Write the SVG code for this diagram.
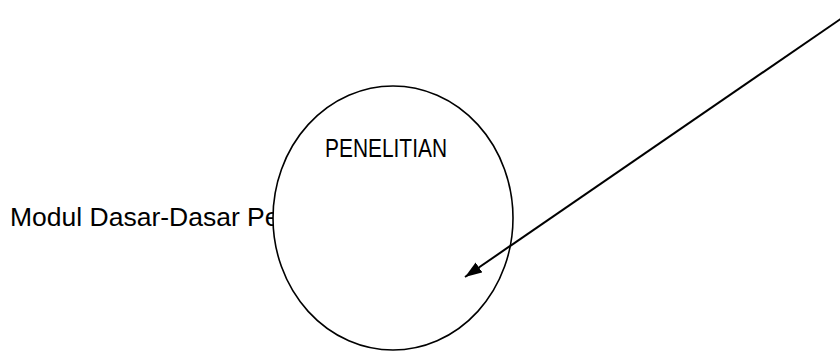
<svg xmlns="http://www.w3.org/2000/svg" width="840" height="353" viewBox="0 0 840 353">
<style>
  text { font-family: "Liberation Sans", Arial, sans-serif; fill: #000; }
  .shape { fill: #fff; stroke: #000; stroke-width: 1.6; }
  .conn { stroke: #000; stroke-width: 2; fill: none; }
</style>
<defs>
  <marker id="arrow" markerUnits="userSpaceOnUse" markerWidth="18" markerHeight="12" refX="17" refY="6" orient="auto">
    <path d="M0,0 L17,6 L0,12 Z" fill="#000"/>
  </marker>
</defs>
<g id="label-modul">
  <text x="10" y="226" font-size="26.5">Modul Dasar-Dasar Pe</text>
</g>
<g id="node-penelitian">
  <ellipse class="shape" cx="393" cy="218" rx="120" ry="132"/>
  <text x="325" y="157" font-size="25" textLength="122" lengthAdjust="spacingAndGlyphs">PENELITIAN</text>
</g>
<g id="connectors">
  <line class="conn" x1="842" y1="18" x2="465" y2="277" marker-end="url(#arrow)"/>
</g>
</svg>
